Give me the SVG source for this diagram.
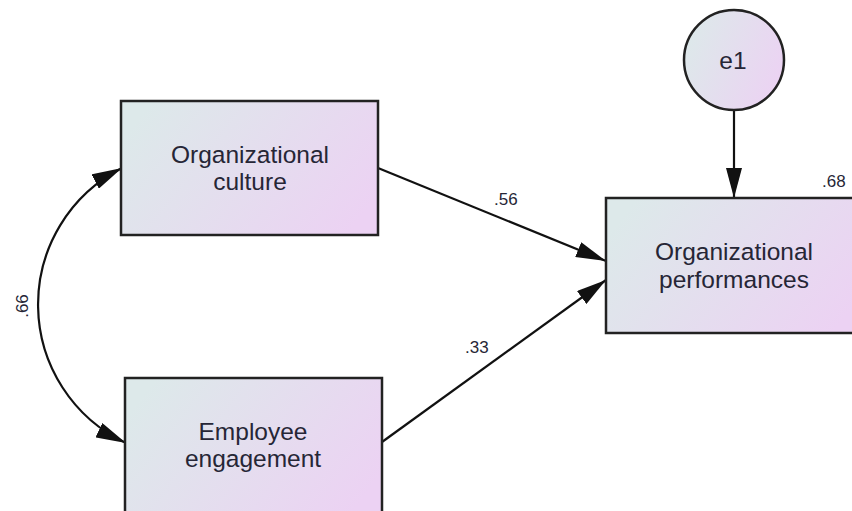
<svg xmlns="http://www.w3.org/2000/svg" width="852" height="511" viewBox="0 0 852 511">
  <defs>
    <linearGradient id="fill" x1="0" y1="0.3" x2="1" y2="0.7">
      <stop offset="0" stop-color="#dde9ea"/>
      <stop offset="1" stop-color="#ecd2f3"/>
    </linearGradient>
    <marker id="head" markerUnits="userSpaceOnUse" markerWidth="30" markerHeight="16" refX="30" refY="8" orient="auto-start-reverse" viewBox="0 0 30 16">
      <path d="M0,0 L30,8 L0,16 z" fill="#111"/>
    </marker>
  </defs>
  <style>
    .box { fill: url(#fill); stroke: #222; stroke-width: 2.5; }
    .name { font-family: "Liberation Sans", Arial, sans-serif; font-size: 24.5px; fill: #262636; text-anchor: middle; }
    .coef { font-family: "Liberation Sans", Arial, sans-serif; font-size: 17px; fill: #262636; }
    .edge { fill: none; stroke: #111; stroke-width: 2.2; }
  </style>
  <rect width="852" height="511" fill="#ffffff"/>

  <g id="connectors">
    <path class="edge" d="M122,168 A153,153 0 0 0 126,443" marker-start="url(#head)" marker-end="url(#head)"/>
    <line class="edge" x1="378" y1="168" x2="606" y2="261" marker-end="url(#head)"/>
    <line class="edge" x1="382" y1="442" x2="606" y2="280" marker-end="url(#head)"/>
    <line class="edge" x1="734" y1="110" x2="734" y2="198" marker-end="url(#head)"/>
    <text class="coef" x="494" y="205">.56</text>
    <text class="coef" x="465" y="353">.33</text>
    <text class="coef" transform="translate(28,306) rotate(-90)" text-anchor="middle">.66</text>
  </g>

  <g id="culture">
    <rect class="box" x="121" y="101" width="257" height="134"/>
    <text class="name" x="250" y="163">Organizational</text>
    <text class="name" x="250" y="190">culture</text>
  </g>

  <g id="engagement">
    <rect class="box" x="125" y="378" width="257" height="136"/>
    <text class="name" x="253" y="440">Employee</text>
    <text class="name" x="253" y="467">engagement</text>
  </g>

  <g id="performances">
    <rect class="box" x="606" y="198" width="258" height="135"/>
    <text class="name" x="734" y="260">Organizational</text>
    <text class="name" x="734" y="288">performances</text>
    <text class="coef" x="822" y="187">.68</text>
  </g>

  <g id="e1">
    <circle class="box" cx="734" cy="60" r="50" stroke-width="2"/>
    <text class="name" x="733" y="69">e1</text>
  </g>
</svg>
